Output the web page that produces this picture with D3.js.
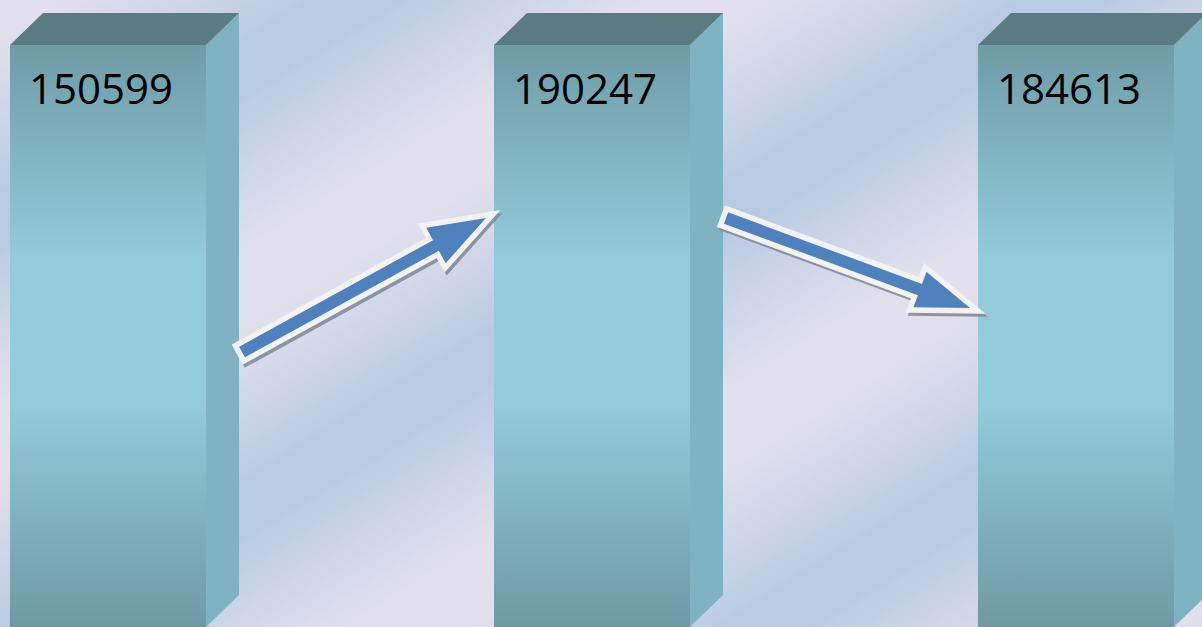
<html>
<head>
  <script src="https://d3js.org/d3.v7.min.js"></script>
  <style>
    body { margin: 0; overflow: hidden; }
  </style>
</head>
<body>
  <div id="chart"></div>
  <script>
    // data
    var categories = ["Period 1", "Period 2", "Period 3"];
    var values = [150599, 190247, 184613];

    var width = 1202, height = 627;
    var depth = 33, lift = 32;   // 3d offset of the boxes
    var topY = 45;

    var svg = d3.select("#chart").append("svg")
      .attr("width", width).attr("height", height);

    var defs = svg.append("defs");

    // diagonal banded background
    var bg = defs.append("linearGradient").attr("id", "bg")
      .attr("gradientUnits", "userSpaceOnUse")
      .attr("spreadMethod", "repeat")
      .attr("x1", 0).attr("y1", 0)
      .attr("x2", 197).attr("y2", 318);
    [[0, "#e3e0ee"], [0.08, "#e3e0ee"], [0.45, "#b8cbe3"], [0.55, "#b8cbe3"], [0.92, "#e3e0ee"], [1, "#e3e0ee"]]
      .forEach(function(s){
        bg.append("stop").attr("offset", s[0]).attr("stop-color", s[1]);
      });

    var front = defs.append("linearGradient").attr("id", "front")
      .attr("gradientUnits", "userSpaceOnUse")
      .attr("x1", 0).attr("y1", topY).attr("x2", 0).attr("y2", height);
    front.append("stop").attr("offset", 0).attr("stop-color", "#6e9ca7");
    front.append("stop").attr("offset", 0.36).attr("stop-color", "#92cbd9");
    front.append("stop").attr("offset", 0.62).attr("stop-color", "#92cbd9");
    front.append("stop").attr("offset", 1).attr("stop-color", "#6e9aa5");

    svg.append("rect").attr("width", width).attr("height", height).attr("fill", "url(#bg)");

    var x = d3.scaleBand().domain(categories).range([10, 1174]).paddingInner(0.595).paddingOuter(0);
    var bw = x.bandwidth();

    // arrow levels follow the values
    var yArrow = d3.scaleLinear()
      .domain([d3.min(values), values[2], d3.max(values)])
      .range([352, 308, 218]);

    var bars = svg.selectAll("g.bar").data(categories).enter().append("g").attr("class", "bar");

    bars.append("rect")
      .attr("x", function(d){ return x(d); })
      .attr("y", topY)
      .attr("width", bw)
      .attr("height", height - topY)
      .attr("fill", "url(#front)");

    bars.append("path")
      .attr("fill", "#80b3c1")
      .attr("d", function(d){
        var r = x(d) + bw;
        return "M" + r + "," + topY + "L" + (r + depth) + "," + (topY - lift) +
          "L" + (r + depth) + "," + (height - lift) + "L" + r + "," + height + "Z";
      });

    bars.append("path")
      .attr("fill", "#597b81")
      .attr("d", function(d){
        var l = x(d), r = x(d) + bw;
        return "M" + l + "," + topY + "L" + (l + depth) + "," + (topY - lift) +
          "L" + (r + depth) + "," + (topY - lift) + "L" + r + "," + topY + "Z";
      });

    bars.append("text")
      .attr("x", function(d){ return x(d) + 19; })
      .attr("y", 104)
      .style("font-family", "'Open Sans', sans-serif")
      .style("font-size", "42px")
      .style("fill", "#000")
      .text(function(d, i){ return values[i]; });

    // block arrows between neighbouring bars
    function arrowPoints(t, p) {
      var dx = p[0] - t[0], dy = p[1] - t[1];
      var L = Math.sqrt(dx * dx + dy * dy);
      var ux = dx / L, uy = dy / L, nx = -uy, ny = ux;
      var sw = 6, hl = 0.205 * L, hw = 0.0725 * L;
      var b = [p[0] - ux * hl, p[1] - uy * hl];
      return [
        [t[0] + nx * sw, t[1] + ny * sw],
        [b[0] + nx * sw, b[1] + ny * sw],
        [b[0] + nx * hw, b[1] + ny * hw],
        p,
        [b[0] - nx * hw, b[1] - ny * hw],
        [b[0] - nx * sw, b[1] - ny * sw],
        [t[0] - nx * sw, t[1] - ny * sw]
      ];
    }

    var arrows = d3.range(values.length - 1).map(function(i){
      var tail = [x(categories[i]) + bw + depth + 3, yArrow(values[i])];
      var tip = [x(categories[i + 1]) - 8, yArrow(values[i + 1])];
      return arrowPoints(tail, tip);
    });

    var line = d3.line().curve(d3.curveLinearClosed);

    svg.selectAll("path.shadow").data(arrows).enter().append("path")
      .attr("class", "shadow")
      .attr("d", line)
      .attr("transform", "translate(2,3)")
      .attr("fill", "#7e889b")
      .attr("stroke", "#7e889b")
      .attr("stroke-width", 11)
      .attr("stroke-linejoin", "miter")
      .attr("stroke-miterlimit", 10)
      .attr("opacity", 0.85);

    svg.selectAll("path.arrow").data(arrows).enter().append("path")
      .attr("class", "arrow")
      .attr("d", line)
      .attr("fill", "#4f81bd")
      .attr("stroke", "#f2f2f2")
      .attr("stroke-width", 11)
      .attr("stroke-linejoin", "miter")
      .attr("stroke-miterlimit", 10)
      .style("paint-order", "stroke");
  </script>
</body>
</html>
